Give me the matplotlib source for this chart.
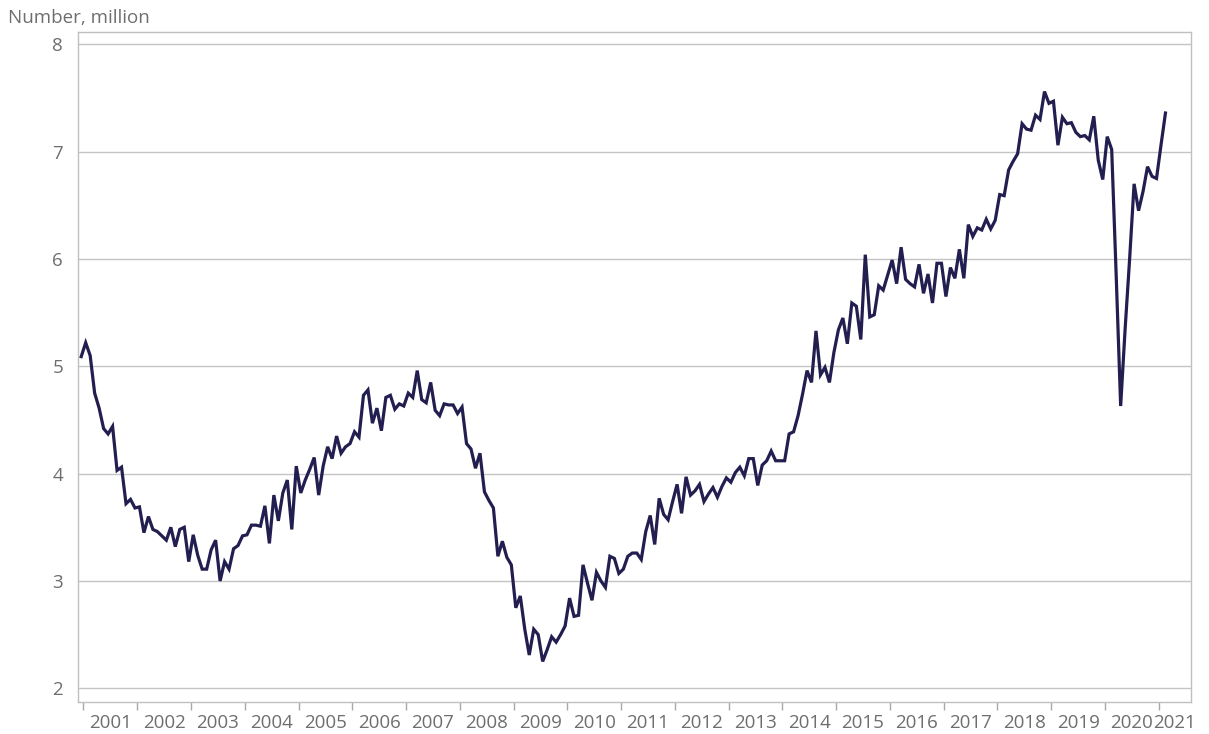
import matplotlib
matplotlib.use("Agg")
import matplotlib.pyplot as plt
from matplotlib.ticker import FixedLocator, NullFormatter

# Job openings, monthly, Dec 2000 - Feb 2021 (million)
start_label = "2000-12"
openings_2000_2005 = [5.09,
    5.22, 5.10, 4.75, 4.61, 4.42, 4.37, 4.44, 4.03, 4.06, 3.72, 3.76, 3.68,
    3.69, 3.45, 3.60, 3.48, 3.46, 3.42, 3.38, 3.50, 3.32, 3.48, 3.50, 3.18,
    3.43, 3.24, 3.11, 3.11, 3.29, 3.38, 3.00, 3.18, 3.11, 3.30, 3.33, 3.42,
    3.43, 3.52, 3.52, 3.51, 3.70, 3.35, 3.80, 3.56, 3.82, 3.94, 3.48, 4.07,
    3.82, 3.94, 4.04, 4.15, 3.80, 4.07, 4.25, 4.14, 4.35, 4.19, 4.25, 4.28]
openings_2006_2010 = [
    4.39, 4.34, 4.73, 4.78, 4.47, 4.61, 4.40, 4.71, 4.73, 4.60, 4.65, 4.63,
    4.75, 4.71, 4.96, 4.69, 4.66, 4.85, 4.59, 4.54, 4.65, 4.64, 4.64, 4.56,
    4.62, 4.28, 4.23, 4.05, 4.19, 3.83, 3.75, 3.68, 3.23, 3.37, 3.22, 3.15,
    2.75, 2.86, 2.55, 2.31, 2.55, 2.50, 2.25, 2.36, 2.48, 2.43, 2.50, 2.58,
    2.84, 2.67, 2.68, 3.15, 2.98, 2.82, 3.08, 3.00, 2.94, 3.23, 3.21, 3.07]
openings_2011_2015 = [
    3.11, 3.23, 3.26, 3.26, 3.20, 3.46, 3.61, 3.34, 3.77, 3.62, 3.57, 3.74,
    3.90, 3.63, 3.97, 3.80, 3.84, 3.90, 3.74, 3.81, 3.87, 3.78, 3.88, 3.96,
    3.92, 4.01, 4.06, 3.98, 4.14, 4.14, 3.89, 4.08, 4.12, 4.21, 4.12, 4.12,
    4.12, 4.37, 4.39, 4.54, 4.74, 4.96, 4.85, 5.33, 4.92, 4.99, 4.85, 5.13,
    5.34, 5.45, 5.21, 5.59, 5.56, 5.25, 6.04, 5.46, 5.48, 5.75, 5.71, 5.85]
openings_2016_2021 = [
    5.99, 5.77, 6.11, 5.81, 5.77, 5.74, 5.95, 5.68, 5.86, 5.59, 5.96, 5.96,
    5.65, 5.92, 5.82, 6.09, 5.82, 6.32, 6.21, 6.29, 6.27, 6.37, 6.28, 6.36,
    6.60, 6.59, 6.83, 6.91, 6.98, 7.26, 7.21, 7.20, 7.34, 7.30, 7.56, 7.45,
    7.47, 7.06, 7.32, 7.26, 7.27, 7.18, 7.14, 7.15, 7.11, 7.33, 6.92, 6.74,
    7.14, 7.02, 5.85, 4.63, 5.35, 6.00, 6.70, 6.45, 6.63, 6.86, 6.77, 6.75,
    7.06, 7.36]
year_labels = [str(y) for y in range(2001, 2022)]
y_ticks = [2, 3, 4, 5, 6, 7, 8]
y_title = "Number, million"

values = openings_2000_2005 + openings_2006_2010 + openings_2011_2015 + openings_2016_2021
x = list(range(len(values)))  # month index, 0 = Dec 2000

grey_text = "#6e6e6e"
line_col = "#221e50"
grid_col = "#c4c4c4"
font = ["Open Sans", "DejaVu Sans"]
plt.rcParams["font.family"] = font
fs = 13.5

fig = plt.figure(figsize=(12.09, 7.34), dpi=100)
ax = fig.add_axes([78.3 / 1209, 1 - 701.7 / 734, (1191 - 78.3) / 1209, (701.7 - 32.3) / 734])

ax.plot(x, values, color=line_col, lw=2.3, solid_joinstyle="miter", zorder=3)

ax.set_xlim(-0.65, 247.7)
ax.set_ylim(1.875, 8.112)

ax.set_yticks(y_ticks)
ax.set_yticklabels([str(v) for v in y_ticks])
ax.yaxis.grid(True, color=grid_col, lw=1.0)
ax.set_axisbelow(True)
ax.tick_params(axis="y", length=0, pad=11, labelsize=fs, labelcolor=grey_text)

# year boundary ticks (major, no labels) and centred year labels (minor)
major = [12 * k + 0.5 for k in range(len(year_labels))]
centres = [m + 6 for m in major[:-1]] + [(major[-1] + 247.7) / 2]
ax.xaxis.set_major_locator(FixedLocator(major))
ax.xaxis.set_major_formatter(NullFormatter())
ax.xaxis.set_minor_locator(FixedLocator(centres))
ax.set_xticklabels(year_labels, minor=True)
ax.tick_params(axis="x", which="major", length=6, width=1, color="#a8a8a8", direction="out")
ax.tick_params(axis="x", which="minor", length=0, pad=9, labelsize=fs, labelcolor=grey_text)

for s in ax.spines.values():
    s.set_color("#c0c0c0")
    s.set_linewidth(1.0)

fig.text(8 / 1209, 1 - 23 / 734, y_title, fontsize=fs, color=grey_text, va="baseline", ha="left")

fig.savefig("out.png", dpi=100)
